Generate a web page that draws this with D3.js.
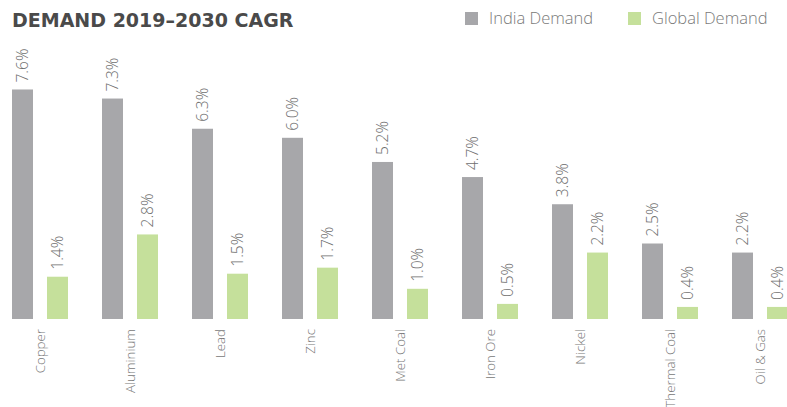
<!DOCTYPE html>
<html>
<head>
<meta charset="utf-8">
<script src="https://cdn.jsdelivr.net/npm/d3@7"></script>
<style>
  body { margin: 0; background: #fff; }
  svg { display: block; font-family: "Open Sans", Roboto, sans-serif; }
  .title { font-family: "DejaVu Sans", sans-serif; font-weight: 700; font-size: 19px; fill: #4a4a4a; }
  .legend-label { font-weight: 300; font-size: 16.5px; fill: #7a7a7a; }
  .data-label { font-weight: 300; font-size: 15.5px; fill: #6e6e6e; }
  .cat-label { font-weight: 300; font-size: 13.3px; fill: #777; }
</style>
</head>
<body>
<svg id="chart" width="787" height="407"></svg>
<script>
// Chart data
const categories = ['Copper', 'Aluminium', 'Lead', 'Zinc', 'Met Coal', 'Iron Ore', 'Nickel', 'Thermal Coal', 'Oil & Gas'];
const indiaDemand = [7.6, 7.3, 6.3, 6.0, 5.2, 4.7, 3.8, 2.5, 2.2];
const globalDemand = [1.4, 2.8, 1.5, 1.7, 1.0, 0.5, 2.2, 0.4, 0.4];
const seriesNames = ['India Demand', 'Global Demand'];
const colors = ['#a7a7aa', '#c5e09b'];

const svg = d3.select('#chart');

const margin = { left: 12 };

// Each category holds two bars
const rows = categories.map((c, i) => ({ cat: c, values: [indiaDemand[i], globalDemand[i]] }));

// 90px per category
const x0 = d3.scaleBand()
  .domain(categories)
  .range([margin.left, margin.left + 90 * categories.length]);

// Two 21px bars with a 14px gap
const x1 = d3.scaleBand()
  .domain(seriesNames)
  .range([0, 56])
  .paddingInner(0.4);

const y = d3.scaleLinear()
  .domain([0, 8])
  .range([319, 319 - 8 * 30.2]);

// Title
svg.append('text')
  .attr('class', 'title')
  .attr('x', 12)
  .attr('y', 27)
  .text('DEMAND 2019–2030 CAGR');

// Legend
const legendX = [465, 628];
const legend = svg.append('g').attr('class', 'legend')
  .selectAll('g')
  .data(seriesNames)
  .enter()
  .append('g')
    .attr('transform', (d, i) => `translate(${legendX[i]}, 12)`);

legend.append('rect')
  .attr('width', 13)
  .attr('height', 13)
  .attr('fill', (d, i) => colors[i]);

legend.append('text')
  .attr('class', 'legend-label')
  .attr('x', 24)
  .attr('y', 12)
  .text((d) => d);

// Bars
const groups = svg.append('g').attr('class', 'bars')
  .selectAll('g')
  .data(rows)
  .enter()
  .append('g')
    .attr('transform', (d) => `translate(${x0(d.cat)}, 0)`);

const bars = groups.selectAll('rect')
  .data((d) => d.values.map((v, i) => ({ key: seriesNames[i], v: v, i: i })))
  .enter();

bars.append('rect')
  .attr('x', (d) => x1(d.key))
  .attr('y', (d) => y(d.v))
  .attr('width', x1.bandwidth())
  .attr('height', (d) => y(0) - y(d.v))
  .attr('fill', (d) => colors[d.i]);

// Value labels, rotated above the bars
bars.append('text')
  .attr('class', 'data-label')
  .attr('transform', (d) => `translate(${x1(d.key) + x1.bandwidth() / 2 + 5}, ${y(d.v) - 7}) rotate(-90)`)
  .text((d) => d.v.toFixed(1) + '%');

// Category labels, centred under each pair of bars
groups.append('text')
  .attr('class', 'cat-label')
  .attr('text-anchor', 'end')
  .attr('transform', `translate(${28 + 5}, 329) rotate(-90)`)
  .text((d) => d.cat);
</script>
</body>
</html>
